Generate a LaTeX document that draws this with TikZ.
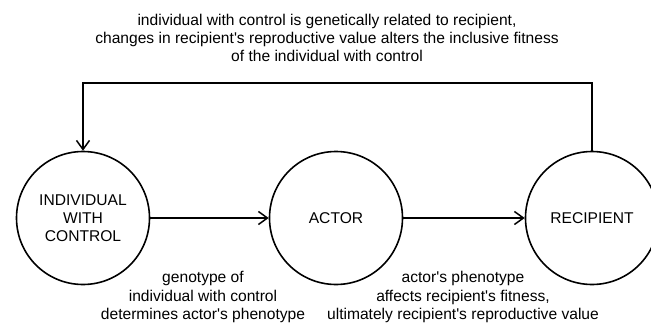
\documentclass[tikz,border=0pt]{standalone}
\usepackage{fontspec}
\setmainfont{Liberation Sans}
\usetikzlibrary{arrows.meta}

\tikzset{
	party/.style={draw,circle,line width=1.6pt,minimum size=133pt,inner sep=0pt,align=center},
	link/.style={line width=1.5pt,-{Straight Barb[length=9pt,width=13pt,line width=1.5pt]}},
	note/.style={align=center}
}
\newcommand{\apos}{\textquotesingle}

\begin{document}
\begin{tikzpicture}[x=1pt,y=-1pt,font=\fontsize{15.6}{18.2}\selectfont]
		%
		\path [use as bounding box] (0,0) rectangle (651,324);
		%
		\node[party] (ind) at (83,218) {INDIVIDUAL\\WITH\\CONTROL};
		\node[party] (act) at (336,218) {ACTOR};
		\node[party] (rec) at (592,218) {RECIPIENT};
		%
		\coordinate (topR) at (592,83);
		\coordinate (topL) at (83,83);
		%
		\draw [link] (ind) -- (act);
		\draw [link] (act) -- (rec);
		\draw [link] (rec.north) -- (topR) -- (topL) -- (ind.north);
		%
		\node[note] (relate) at (327,38) {individual with control is genetically related to recipient,\\changes in recipient\apos s reproductive value alters the inclusive fitness\\of the individual with control};
		\node[note] (geno) at (203,297) {genotype of\\individual with control\\determines actor\apos s phenotype};
		\node[note] (pheno) at (463,297) {actor\apos s phenotype\\affects recipient\apos s fitness,\\ultimately recipient\apos s reproductive value};
		%
	\end{tikzpicture}
\end{document}
